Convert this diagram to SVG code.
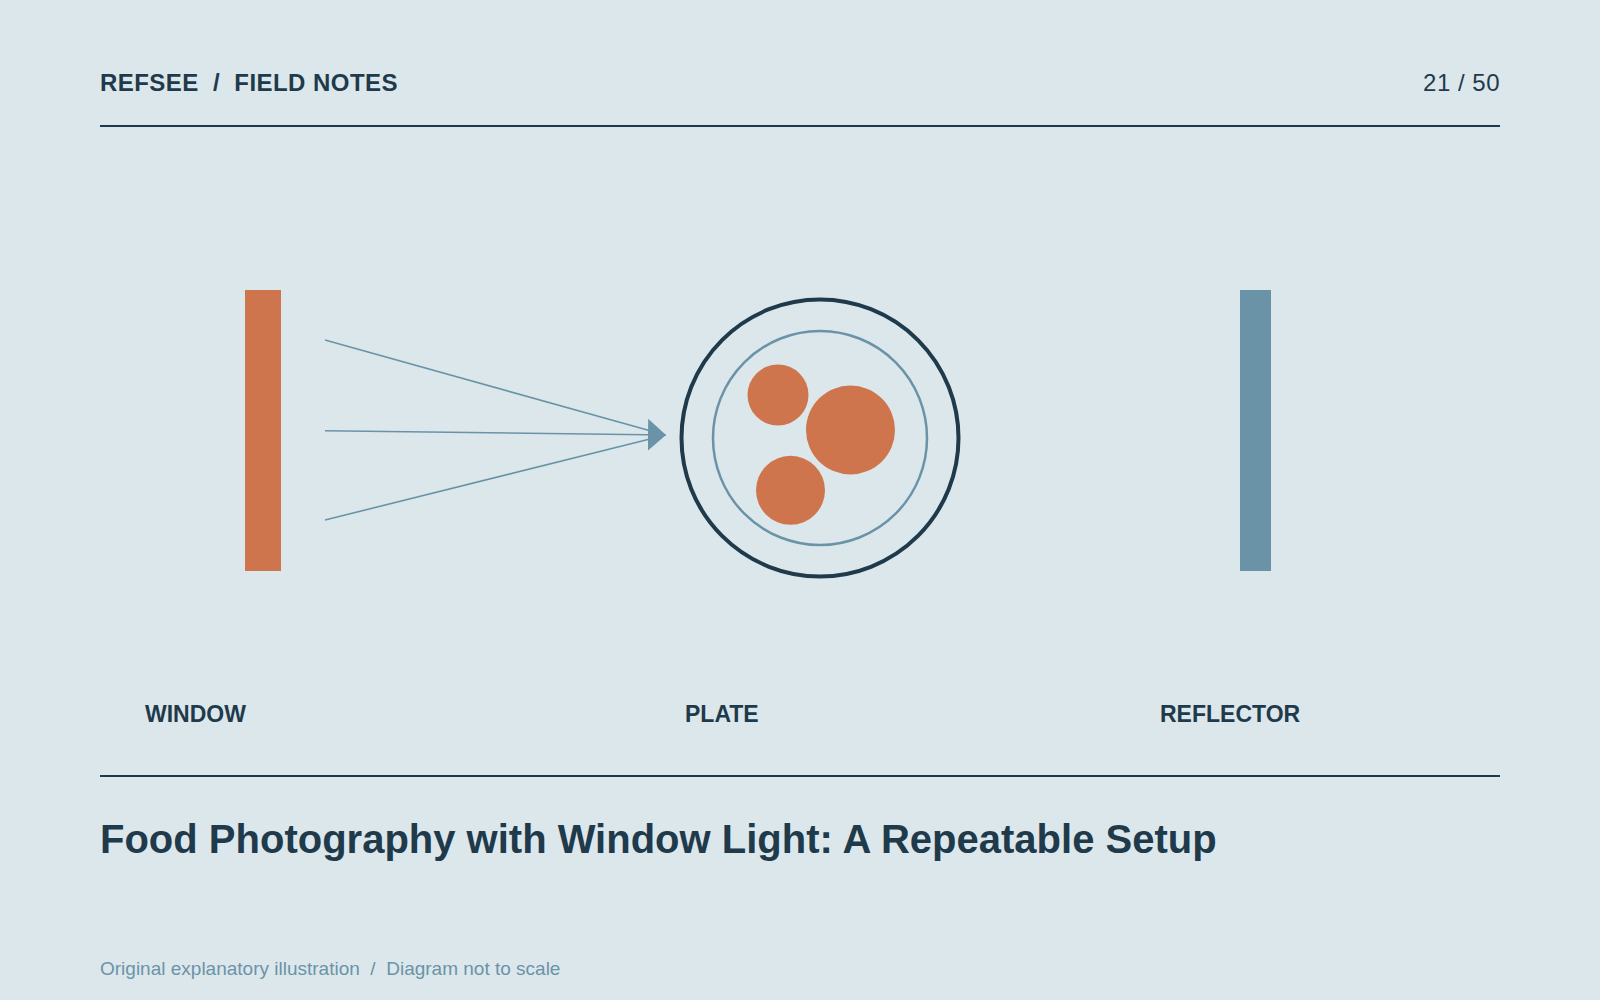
<svg xmlns="http://www.w3.org/2000/svg" width="1600" height="1000" viewBox="0 0 1600 1000">
  <style>
    .bg { fill: #dce7ec; }
    .rule { stroke: #1f3a4b; stroke-width: 2; fill: none; }
    .hdr { font-family: "Liberation Sans", Arial, sans-serif; font-size: 24px; fill: #1f3a4b; }
    .hdr-b { font-weight: 700; letter-spacing: 0.45px; }
    .hdr-r { font-weight: 400; letter-spacing: 0.5px; }
    .lbl { font-family: "Liberation Sans", Arial, sans-serif; font-size: 23px; font-weight: 700; fill: #1f3a4b; }
    .title { font-family: "Liberation Sans", Arial, sans-serif; font-size: 40px; font-weight: 700; fill: #1f3a4b; }
    .foot { font-family: "Liberation Sans", Arial, sans-serif; font-size: 19px; fill: #6b93a7; }
    .food { fill: #cf754d; }
    .ray { stroke: #6b93a7; stroke-width: 1.6; fill: none; }
    .ray-head { marker-end: url(#arrow); }
  </style>
  <defs>
    <marker id="arrow" markerUnits="userSpaceOnUse" markerWidth="18" markerHeight="32" viewBox="0 0 18 32" refX="18" refY="16" orient="auto">
      <path d="M0,0 L18,16 L0,32 Z" fill="#6b93a7"/>
    </marker>
  </defs>

  <rect class="bg" x="0" y="0" width="1600" height="1000"/>

  <g id="header">
    <text class="hdr hdr-b" x="100" y="91" xml:space="preserve">REFSEE  /  FIELD NOTES</text>
    <text class="hdr hdr-r" x="1500" y="91" text-anchor="end">21 / 50</text>
    <line class="rule" x1="100" y1="126" x2="1500" y2="126"/>
  </g>

  <g id="window">
    <rect x="245" y="290" width="36" height="281" fill="#cf754d"/>
    <text class="lbl" x="145" y="722">WINDOW</text>
  </g>

  <g id="plate">
    <circle cx="820" cy="438" r="138.5" fill="none" stroke="#1f3a4b" stroke-width="4"/>
    <circle cx="820" cy="438" r="107" fill="none" stroke="#6b93a7" stroke-width="2.5"/>
    <circle class="food" cx="778" cy="395" r="30.5"/>
    <circle class="food" cx="850.5" cy="430" r="44.5"/>
    <circle class="food" cx="790.5" cy="490.3" r="34.5"/>
    <text class="lbl" x="685" y="722">PLATE</text>
  </g>

  <g id="reflector">
    <rect x="1240" y="290" width="31" height="281" fill="#6b93a7"/>
    <text class="lbl" x="1160" y="722">REFLECTOR</text>
  </g>

  <g id="connectors">
    <line class="ray" x1="325" y1="340" x2="660" y2="433.5"/>
    <line class="ray" x1="325" y1="520" x2="660" y2="436.5"/>
    <line class="ray ray-head" x1="325" y1="430.7" x2="666" y2="435"/>
  </g>

  <g id="footer">
    <line class="rule" x1="100" y1="776" x2="1500" y2="776"/>
    <text class="title" x="100" y="853">Food Photography with Window Light: A Repeatable Setup</text>
    <text class="foot" x="100" y="975" xml:space="preserve">Original explanatory illustration  /  Diagram not to scale</text>
  </g>
</svg>
